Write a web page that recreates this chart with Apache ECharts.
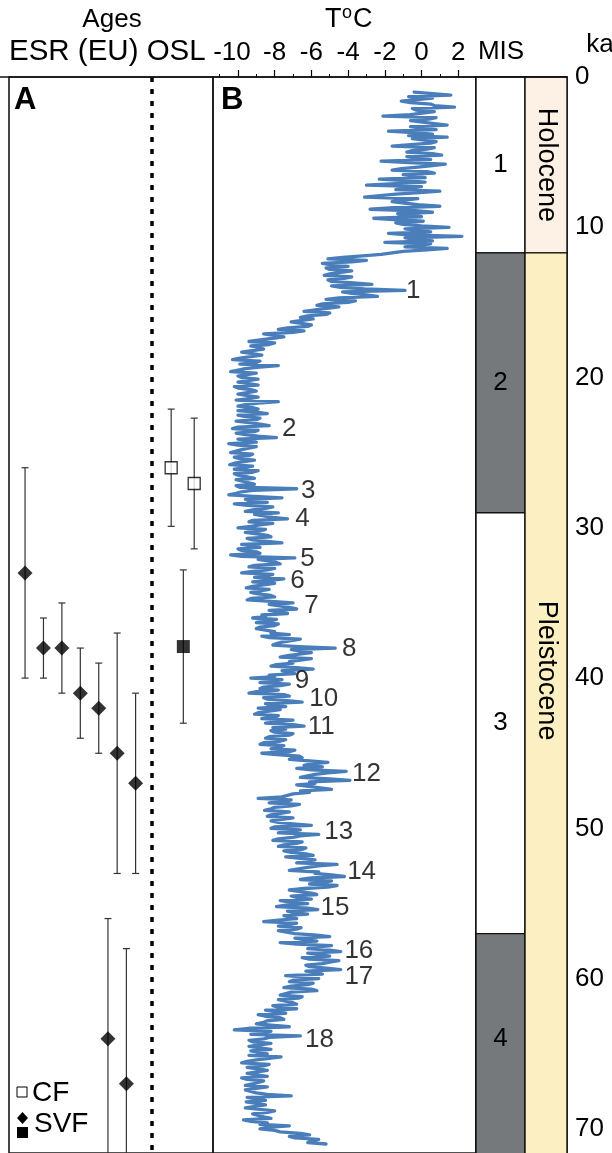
<!DOCTYPE html>
<html><head><meta charset="utf-8">
<script src="https://cdn.jsdelivr.net/npm/echarts@6/dist/echarts.min.js"></script>
<style>html,body{margin:0;padding:0;background:#fff}#c{width:612px;height:1153px}</style>
</head><body><div id="c"></div>
<script>
// ---------------- DATA ----------------
// Temperature record (T °C), evenly sampled in age (ka); one row = 1 ka
const AGE_START = 1.0, AGE_STEP = 0.1;
const tempC = [
 -0.4, 0.6, 1.6, -0.7, 0.6, 0.5, -1.1, -0.6, 0.5, 0.7,
 1.8, -0.5, -0.3, 0.7, 0.6, -0.6, -2.1, 0.8, 0.4, -0.6,
 -0.5, 0.7, 1.4, -0.6, 0.0, 0.8, -1.8, -0.5, 0.6, -0.7,
 1.4, -0.5, -0.4, 0.8, 0.5, -0.6, -1.6, 0.7, 0.3, -0.5,
 -0.8, 0.6, 1.1, -0.8, -0.3, 0.5, -2.2, -0.7, 1.3, 0.6,
 -0.2, -1.1, -1.6, 0.3, 0.7, -1.0, -0.9, 0.2, -2.3, -0.9,
 0.2, -1.4, -3.0, 0.0, -0.6, -1.4, 1.0, -0.1, -1.4, -1.3,
 -3.1, -0.2, -0.3, -1.6, -1.5, -0.2, 1.0, -1.5, -2.8, -0.3,
 0.6, -1.3, -1.3, 0.0, -2.6, -1.3, 0.1, -1.4, -1.0, 0.0,
 1.5, -0.9, -0.8, 0.5, -1.8, -0.7, 2.2, -0.9, -0.2, 0.6,
 -2.0, 0.5, 0.5, -0.9, 1.4, 0.3, -1.0, -1.0, -2.2, -3.2,
 -4.3, -5.1, -3.0, -3.8, -5.4, -4.9, -4.0, -5.2, -5.0, -3.8,
 -3.8, -5.0, -5.3, -3.8, -4.2, -5.1, -4.9, -3.7, -2.7, -4.9,
 -4.4, -3.1, -0.9, -4.3, -3.8, -3.0, -2.4, -4.5, -5.2, -3.6,
 -4.0, -5.4, -5.7, -4.5, -4.6, -5.8, -6.4, -5.0, -5.2, -6.2,
 -6.6, -5.9, -5.8, -7.1, -7.0, -6.0, -6.2, -7.3, -7.8, -6.4,
 -7.0, -8.6, -8.6, -7.5, -7.6, -8.8, -9.4, -8.0, -8.3, -9.3,
 -9.4, -8.6, -8.5, -9.8, -9.2, -8.7, -8.8, -9.9, -10.3, -8.8,
 -9.0, -9.9, -7.8, -8.8, -9.6, -10.0, -10.4, -9.0, -9.0, -10.0,
 -9.8, -8.9, -8.8, -10.0, -9.4, -8.9, -10.2, -10.0, -9.3, -9.0,
 -9.0, -10.0, -10.1, -8.9, -9.4, -10.1, -7.8, -8.9, -9.6, -10.0,
 -9.2, -8.9, -10.0, -9.0, -8.4, -10.0, -9.6, -8.8, -9.0, -10.1,
 -9.4, -8.8, -8.3, -10.0, -10.3, -8.9, -9.1, -10.1, -9.6, -8.9,
 -7.9, -10.0, -9.4, -9.0, -10.5, -10.0, -9.0, -9.1, -9.8, -10.1,
 -10.4, -9.2, -9.4, -10.2, -9.9, -9.1, -9.2, -10.2, -10.45, -9.2,
 -9.6, -10.2, -8.9, -9.2, -10.2, -10.0, -9.5, -9.1, -10.1, -10.0,
 -9.4, -9.1, -10.1, -9.9, -6.8, -9.2, -9.8, -10.1, -10.5, -9.1,
 -7.6, -9.6, -9.4, -8.4, -10.2, -9.5, -8.1, -8.5, -9.2, -9.6,
 -7.8, -9.1, -9.0, -8.1, -7.3, -9.2, -9.4, -8.1, -8.8, -9.3,
 -10.0, -8.5, -8.8, -9.6, -9.6, -8.4, -8.2, -9.5, -9.2, -8.4,
 -7.6, -9.8, -9.3, -8.8, -10.0, -9.8, -9.0, -8.8, -10.4, -9.8,
 -6.9, -8.9, -8.8, -7.9, -7.7, -9.1, -9.4, -8.0, -8.4, -9.2,
 -9.8, -8.1, -8.4, -9.1, -7.5, -8.2, -9.2, -8.0, -8.6, -9.2,
 -9.55, -8.3, -8.4, -9.3, -8.9, -8.2, -8.0, -9.3, -9.5, -8.2,
 -7.0, -8.3, -8.4, -7.2, -6.8, -8.3, -7.9, -7.3, -8.7, -8.5,
 -9.2, -7.9, -8.3, -9.0, -7.8, -8.0, -8.8, -9.0, -9.1, -8.0,
 -8.2, -7.2, -8.7, -8.3, -6.6, -7.1, -7.6, -7.9, -8.1, -6.7,
 -4.7, -7.1, -7.2, -6.0, -6.0, -7.3, -7.7, -6.0, -5.9, -7.2,
 -7.0, -7.9, -8.2, -6.8, -5.9, -7.6, -7.6, -6.9, -8.3, -8.0,
 -9.3, -7.6, -8.0, -8.8, -7.2, -7.7, -8.6, -8.8, -7.8, -9.0,
 -9.4, -7.5, -7.2, -8.6, -8.4, -7.3, -6.5, -8.5, -8.2, -7.4,
 -8.9, -7.7, -7.8, -8.9, -9.1, -7.8, -8.0, -8.7, -7.0, -7.7,
 -8.5, -7.0, -6.4, -8.1, -7.4, -8.2, -8.0, -7.0, -7.2, -8.3,
 -8.5, -7.4, -7.7, -8.6, -8.8, -7.5, -7.8, -8.2, -6.9, -7.2,
 -8.7, -7.7, -6.65, -6.5, -7.2, -7.2, -5.1, -6.0, -6.4, -5.4,
 -6.8, -6.0, -4.1, -5.1, -5.8, -6.2, -6.6, -5.0, -3.9, -6.1,
 -5.8, -6.8, -6.8, -5.5, -4.9, -6.6, -6.1, -7.0, -7.0, -7.6,
 -8.9, -7.1, -7.4, -8.3, -6.65, -7.1, -8.0, -8.2, -8.55, -7.2,
 -7.2, -8.2, -8.4, -7.0, -7.0, -8.2, -7.8, -7.0, -6.0, -8.0,
 -8.2, -6.6, -7.2, -7.8, -5.6, -6.6, -7.0, -7.8, -8.1, -6.5,
 -6.8, -7.5, -7.8, -6.3, -6.5, -7.5, -7.1, -6.3, -5.9, -7.4,
 -7.5, -5.8, -6.4, -6.8, -4.6, -5.6, -6.2, -6.7, -7.2, -5.6,
 -5.8, -4.9, -4.2, -6.0, -6.6, -4.9, -5.4, -6.1, -4.6, -5.1,
 -6.4, -7.2, -7.2, -6.0, -5.7, -7.1, -6.8, -6.0, -7.7, -7.1,
 -6.2, -7.4, -7.9, -6.2, -5.65, -7.3, -7.0, -6.2, -7.5, -7.4,
 -6.8, -7.8, -8.6, -6.8, -7.2, -7.8, -6.56, -6.8, -7.8, -7.8,
 -6.9, -5.7, -5.0, -6.9, -6.4, -5.7, -7.7, -6.8, -4.9, -5.8,
 -6.2, -5.0, -4.4, -6.2, -5.6, -5.0, -6.5, -6.1, -4.5, -5.0,
 -5.4, -6.3, -6.1, -5.2, -4.4, -6.3, -5.6, -5.4, -7.4, -6.3,
 -5.6, -7.0, -7.2, -5.9, -6.2, -7.1, -7.5, -6.0, -5.7, -7.1,
 -7.0, -7.7, -6.5, -6.7, -7.8, -7.7, -7.0, -6.8, -8.1, -7.8,
 -6.8, -8.5, -8.0, -7.4, -8.9, -8.5, -7.7, -7.5, -8.4, -8.6,
 -9.0, -8.2, -7.2, -9.4, -10.2, -8.2, -8.9, -9.3, -6.6, -8.3,
 -8.6, -9.4, -9.2, -8.2, -8.2, -9.4, -8.8, -8.2, -9.3, -9.3,
 -8.4, -9.4, -7.65, -8.3, -9.0, -9.5, -9.8, -8.3, -8.6, -9.5,
 -9.55, -8.4, -8.4, -9.5, -9.0, -8.4, -9.8, -9.5, -8.6, -8.5,
 -9.2, -9.6, -8.4, -8.5, -9.6, -9.5, -9.0, -8.4, -7.1, -9.5,
 -9.0, -8.5, -9.55, -9.5, -8.5, -8.5, -9.6, -9.5, -8.0, -8.4,
 -9.2, -9.3, -8.6, -8.2, -9.7, -9.3, -8.4, -8.8, -7.2, -8.4,
 -8.8, -8.0, -7.7, -6.6, -6.1, -7.2, -6.9, -5.6, -5.6, -6.2,
 -5.2
];
// Numbered warm events (label, age ka, T at label start)
const eventNames = ['1','2','3','4','5','6','7','8','9','10','11','12','13','14','15','16','17','18'];
const eventAge   = [14.2, 23.4, 27.55, 29.4, 32.05, 33.55, 35.2, 38.05, 40.2, 41.4, 43.25, 46.4, 50.2, 52.9, 55.3, 58.15, 59.85, 64.1];
const eventT     = [-0.84, -7.6, -6.56, -6.88, -6.6, -7.15, -6.39, -4.33, -6.9, -6.12, -6.2, -3.78, -5.3, -4.05, -5.5, -4.2, -4.2, -6.35];

// ESR (EU) ages, ka (sample column order within panel A)
const esrSlot = [1, 2, 3, 4, 5, 6, 7, 5.5, 6.5];
const esrAge  = [33, 38, 38, 41, 42, 45, 47, 64, 67];
const esrErr  = [7, 2, 3, 3, 3, 8, 6, 8, 9];
// OSL ages, ka
const oslSlot  = [8.93, 10.18, 9.59];
const oslAge   = [26.0, 27.05, 37.9];
const oslErr   = [3.9, 4.35, 5.1];
const oslGroup = ['CF', 'CF', 'SVF'];
const SEPARATOR_SLOT = 7.9;

// Marine isotope stages and epochs (boundaries in ka)
const misBounds = [0, 11.7, 29, 57, 75];
const misNames  = ['1', '2', '3', '4'];
const epochBounds = [0, 11.7, 75];
const epochNames  = ['Holocene', 'Pleistocene'];
const epochLabelAge = [5.85, 39.5];

const tTicks  = [-10, -8, -6, -4, -2, 0, 2];
const tMinor  = [-11, -9, -7, -5, -3, -1, 1];
const kaTicks = [0, 10, 20, 30, 40, 50, 60, 70];

// ---------------- CHART ----------------
const FONT = "'Liberation Sans', Arial, Helvetica, sans-serif";
const KA_MAX = 71.6;
const chart = echarts.init(document.getElementById('c'));

const gridBase = {top: 77, bottom: -10, show: true, borderColor: '#1a1a1a', borderWidth: 1.6, backgroundColor: 'transparent'};
const yBase = {type: 'value', min: 0, max: KA_MAX, inverse: true, show: false};

function errBar(color) {
  return function (params, api) {
    const x = api.value(0);
    const a = api.coord([x, api.value(1)]);
    const b = api.coord([x, api.value(2)]);
    const w = 3.5;
    const st = {stroke: color, lineWidth: 1.2};
    return {type: 'group', children: [
      {type: 'line', shape: {x1: a[0], y1: a[1], x2: b[0], y2: b[1]}, style: st},
      {type: 'line', shape: {x1: a[0] - w, y1: a[1], x2: a[0] + w, y2: a[1]}, style: st},
      {type: 'line', shape: {x1: b[0] - w, y1: b[1], x2: b[0] + w, y2: b[1]}, style: st}
    ]};
  };
}

const option = {
  animation: false,
  backgroundColor: '#fff',
  grid: [
    Object.assign({left: 9, width: 204}, gridBase),
    Object.assign({left: 213, width: 263}, gridBase),
    Object.assign({left: 476, width: 49}, gridBase),
    Object.assign({left: 525, width: 42}, gridBase)
  ],
  xAxis: [
    {type: 'value', gridIndex: 0, min: 0.13, max: 11.2, show: false},
    {type: 'value', gridIndex: 1, min: -11.36, max: 2.97, position: 'top',
     axisLine: {show: false}, splitLine: {show: false},
     axisTick: {show: true, length: 7, customValues: tTicks, lineStyle: {color: '#000', width: 1.2}},
     axisLabel: {show: true, customValues: tTicks, margin: 11, fontSize: 26, color: '#000', fontFamily: FONT,
                 formatter: v => v === -10 ? '{w|-10}' : String(v),
                 rich: {w: {fontSize: 26, fontFamily: FONT, color: '#000', padding: [0, 12, 0, 0]}}}},
    {type: 'value', gridIndex: 1, min: -11.36, max: 2.97, position: 'top',
     axisLine: {show: false}, splitLine: {show: false},
     axisTick: {show: true, length: 3, customValues: tMinor, lineStyle: {color: '#000', width: 1}},
     axisLabel: {show: false}},
    {type: 'value', gridIndex: 2, min: 0, max: 1, show: false},
    {type: 'value', gridIndex: 3, min: 0, max: 1, show: false}
  ],
  yAxis: [
    Object.assign({gridIndex: 0}, yBase),
    Object.assign({gridIndex: 1}, yBase),
    Object.assign({gridIndex: 2}, yBase),
    {type: 'value', gridIndex: 3, min: 0, max: KA_MAX, inverse: true, position: 'right',
     axisLine: {show: true, lineStyle: {color: '#000', width: 1.5}},
     axisTick: {show: true, inside: false, length: 6, customValues: kaTicks, lineStyle: {color: '#000', width: 1.2}},
     axisLabel: {show: true, customValues: kaTicks, margin: 8, fontSize: 26, color: '#000', fontFamily: FONT},
     splitLine: {show: false}}
  ],
  series: [
    {type: 'custom', xAxisIndex: 0, yAxisIndex: 0, z: 2,
     data: esrSlot.map((s, i) => [s, esrAge[i] - esrErr[i], esrAge[i] + esrErr[i]]),
     renderItem: errBar('#333')},
    {type: 'custom', xAxisIndex: 0, yAxisIndex: 0, z: 2,
     data: oslSlot.map((s, i) => [s, oslAge[i] - oslErr[i], oslAge[i] + oslErr[i]]),
     renderItem: errBar('#333'),
     markLine: {silent: true, symbol: 'none', label: {show: false},
       lineStyle: {color: '#000', width: 3.5, type: [5, 7]},
       data: [{xAxis: SEPARATOR_SLOT}]}},
    {type: 'scatter', xAxisIndex: 0, yAxisIndex: 0, z: 3, symbol: 'diamond', symbolSize: 15,
     itemStyle: {color: '#000'},
     data: esrSlot.map((s, i) => [s, esrAge[i]])},
    {type: 'scatter', xAxisIndex: 0, yAxisIndex: 0, z: 3, symbol: 'rect',
     data: oslSlot.map((s, i) => ({value: [s, oslAge[i]],
       symbolSize: oslGroup[i] === 'CF' ? 12 : 13,
       itemStyle: oslGroup[i] === 'CF' ? {color: '#fff', borderColor: '#000', borderWidth: 1.3}
                                       : {color: '#000', borderColor: '#000', borderWidth: 0}}))},
    {type: 'line', xAxisIndex: 1, yAxisIndex: 1, symbol: 'none', z: 3, sampling: null,
     lineStyle: {color: '#4a7ebb', width: 3.3, join: 'round', cap: 'round'},
     data: tempC.map((t, i) => [t, AGE_START + i * AGE_STEP])},
    {type: 'scatter', xAxisIndex: 1, yAxisIndex: 1, symbolSize: 0, z: 4,
     label: {show: true, position: 'right', distance: 0, fontSize: 26, color: '#000', fontFamily: FONT,
             formatter: p => p.name},
     data: eventNames.map((n, i) => ({name: n, value: [eventT[i], eventAge[i]]}))},
    {type: 'custom', xAxisIndex: 3, yAxisIndex: 2, z: 1,
     data: misNames.map((n, i) => [misBounds[i], misBounds[i + 1], i]),
     renderItem: (params, api) => {
       const cs = params.coordSys;
       const idx = api.value(2);
       const y0 = api.coord([0, api.value(0)])[1];
       const y1 = api.coord([0, api.value(1)])[1];
       const mid = api.coord([0, (api.value(0) + Math.min(api.value(1), 71)) / 2])[1];
       return {type: 'group', children: [
         {type: 'rect', shape: {x: cs.x, y: y0, width: cs.width, height: y1 - y0},
          style: {fill: idx % 2 === 1 ? '#76797c' : '#ffffff', stroke: '#111', lineWidth: 1.4}},
         {type: 'text', x: cs.x + cs.width / 2, y: mid,
          style: {text: misNames[idx], font: '26px ' + FONT, fill: '#000', align: 'center', verticalAlign: 'middle'}}
       ]};
     }},
    {type: 'custom', xAxisIndex: 4, yAxisIndex: 3, z: 1,
     data: epochNames.map((n, i) => [epochBounds[i], epochBounds[i + 1], i]),
     renderItem: (params, api) => {
       const cs = params.coordSys;
       const idx = api.value(2);
       const y0 = api.coord([0, api.value(0)])[1];
       const y1 = api.coord([0, api.value(1)])[1];
       const ly = api.coord([0, epochLabelAge[idx]])[1];
       return {type: 'group', children: [
         {type: 'rect', shape: {x: cs.x, y: y0, width: cs.width, height: y1 - y0},
          style: {fill: idx === 0 ? '#fdf1e6' : '#fcf0c2', stroke: '#111', lineWidth: 1.4}},
         {type: 'text', x: cs.x + cs.width / 2, y: ly, rotation: -Math.PI / 2,
          style: {text: epochNames[idx], font: '27px ' + FONT, fill: '#000', align: 'center', verticalAlign: 'middle'}}
       ]};
     }}
  ],
  graphic: [
    {type: 'line', shape: {x1: 0, y1: 77, x2: 567, y2: 77}, style: {stroke: '#111', lineWidth: 1.6}, z: 10},
    {type: 'text', x: 112, y: 20, style: {text: 'Ages', font: '26px ' + FONT, fill: '#000', align: 'center', verticalAlign: 'middle'}},
    {type: 'text', x: 9, y: 52, style: {text: 'ESR (EU) OSL', font: '29.5px ' + FONT, fill: '#000', align: 'left', verticalAlign: 'middle'}},
    {type: 'text', x: 325, y: 20, style: {text: 'T', font: '27px ' + FONT, fill: '#000', align: 'left', verticalAlign: 'middle'}},
    {type: 'text', x: 342, y: 13, style: {text: 'o', font: '18px ' + FONT, fill: '#000', align: 'left', verticalAlign: 'middle'}},
    {type: 'text', x: 353, y: 20, style: {text: 'C', font: '27px ' + FONT, fill: '#000', align: 'left', verticalAlign: 'middle'}},
    {type: 'text', x: 501, y: 52, style: {text: 'MIS', font: '26px ' + FONT, fill: '#000', align: 'center', verticalAlign: 'middle'}},
    {type: 'text', x: 600, y: 45, style: {text: 'ka', font: '26px ' + FONT, fill: '#000', align: 'center', verticalAlign: 'middle'}},
    {type: 'text', x: 14, y: 100, style: {text: 'A', font: 'bold 31px ' + FONT, fill: '#000', align: 'left', verticalAlign: 'middle'}},
    {type: 'text', x: 221, y: 100, style: {text: 'B', font: 'bold 31px ' + FONT, fill: '#000', align: 'left', verticalAlign: 'middle'}},
    {type: 'rect', shape: {x: 17, y: 1087, width: 10, height: 10}, style: {fill: '#fff', stroke: '#000', lineWidth: 1}},
    {type: 'text', x: 32, y: 1093, style: {text: 'CF', font: '28px ' + FONT, fill: '#000', align: 'left', verticalAlign: 'middle'}},
    {type: 'polygon', shape: {points: [[22.5, 1112], [28, 1118], [22.5, 1124], [17, 1118]]}, style: {fill: '#000'}},
    {type: 'rect', shape: {x: 17, y: 1127, width: 11, height: 11}, style: {fill: '#000'}},
    {type: 'text', x: 34, y: 1124, style: {text: 'SVF', font: '28px ' + FONT, fill: '#000', align: 'left', verticalAlign: 'middle'}}
  ]
};
chart.setOption(option);
</script>
</body></html>
